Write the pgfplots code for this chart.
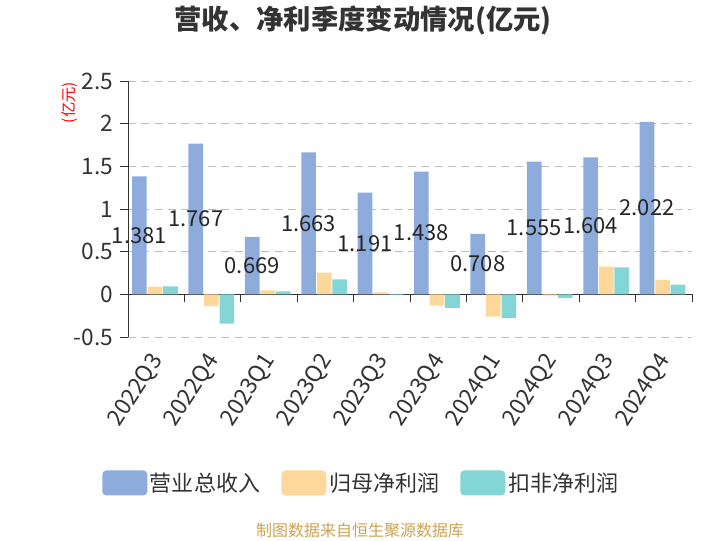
\documentclass[border=0pt]{standalone}
\usepackage{fontspec}
\setmainfont{Noto Sans CJK SC}
\usepackage{pgfplots}
\usepackage{pgfplotstable}
\pgfplotsset{compat=1.18}

\definecolor{revblue}{RGB}{142,172,219}
\definecolor{npyellow}{RGB}{254,216,154}
\definecolor{kfteal}{RGB}{132,213,214}
\definecolor{txt}{RGB}{51,51,51}
\definecolor{gridc}{RGB}{190,190,190}
\definecolor{src}{RGB}{204,163,82}

% 营收, 归母净利润, 扣非净利润 (亿元)
\pgfplotstableread{
x rev np kf
0 1.381 0.090 0.094
1 1.767 -0.137 -0.344
2 0.669 0.047 0.035
3 1.663 0.255 0.176
4 1.191 0.023 -0.010
5 1.438 -0.133 -0.160
6 0.708 -0.262 -0.278
7 1.555 -0.015 -0.043
8 1.604 0.325 0.317
9 2.022 0.168 0.114
}\data

\begin{document}
\begin{tikzpicture}
\path[use as bounding box] (0,0) rectangle (540pt,405pt);
\begin{axis}[
    at={(96pt,152.25pt)}, anchor=south west,
    scale only axis, width=423pt, height=192pt,
    xmin=-0.5, xmax=9.5, ymin=-0.5, ymax=2.5,
    ybar, bar width=11pt,
    axis y line*=left, axis x line*=middle,
    hide obscured x ticks=false, hide obscured y ticks=false,
    ytick={-0.5,0,0.5,1,1.5,2,2.5},
    yticklabels={-0.5,0,0.5,1,1.5,2,2.5},
    xtick={-0.5,0.5,...,9.5},
    xticklabels={2022Q3,2022Q4,2023Q1,2023Q2,2023Q3,2023Q4,2024Q1,2024Q2,2024Q3,2024Q4},
    x tick label as interval,
    ymajorgrids,
    grid style={gridc, dash pattern=on 6pt off 4pt, line width=0.75pt},
    axis line style={txt, line width=0.75pt},
    tick style={txt, line width=0.75pt},
    tick align=outside, major tick length=6pt,
    ticklabel style={text=txt, font=\fontsize{17}{20}\selectfont},
    yticklabel style={xshift=-1.5pt},
    xticklabel style={yshift=-38pt, xshift=3pt, rotate=57, anchor=east},
    legend style={at={(0.414,-0.570)}, anchor=center, draw=none, fill=none,
        legend columns=3, font=\fontsize{16.5}{20}\selectfont, text=txt,
        /tikz/every even column/.append style={column sep=14pt}},
]
\addplot[fill=revblue, draw=none, bar shift=-12.6pt,
    legend image code/.code={\fill[revblue, rounded corners=3pt] (0pt,-9.4pt) rectangle (33.75pt,9.4pt);}]
    table[x=x, y=rev] {\data};
\addlegendentry{营业总收入}
\addplot[fill=npyellow, draw=none, bar shift=-0.9pt,
    legend image code/.code={\fill[npyellow, rounded corners=3pt] (0pt,-9.4pt) rectangle (33.75pt,9.4pt);}]
    table[x=x, y=np] {\data};
\addlegendentry{归母净利润}
\addplot[fill=kfteal, draw=none, bar shift=10.7pt,
    legend image code/.code={\fill[kfteal, rounded corners=3pt] (0pt,-9.4pt) rectangle (33.75pt,9.4pt);}]
    table[x=x, y=kf] {\data};
\addlegendentry{扣非净利润}
% value labels at half height of the revenue bars
\addplot[draw=none, fill=none, bar shift=-12.6pt, forget plot,
    nodes near coords, point meta=explicit symbolic,
    nodes near coords style={anchor=center, text=black!85, font=\fontsize{16.5}{19}\selectfont}]
    table[x=x, y expr=\thisrow{rev}/2, meta=rev] {\data};
\end{axis}
\node[font=\bfseries\fontsize{20.5}{24}\selectfont, text=txt] at (272.25pt,390pt) {营收、净利季度变动情况(亿元)};
\node[rotate=90, text=red, font=\fontsize{11.5}{14}\selectfont] at (52.5pt,328pt) {(亿元)};
\node[text=src, font=\fontsize{12}{14}\selectfont] at (270pt,7.5pt) {制图数据来自恒生聚源数据库};
\end{tikzpicture}
\end{document}
